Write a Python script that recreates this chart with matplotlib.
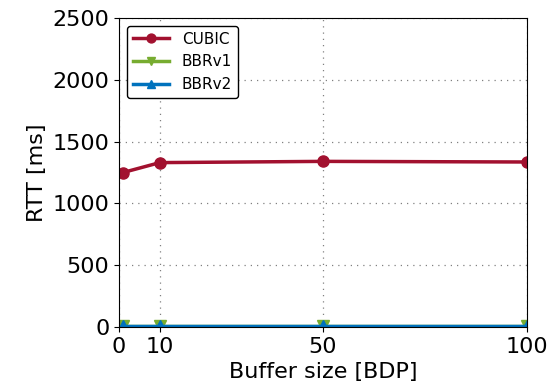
import numpy as np
import matplotlib
matplotlib.use('Agg')
import matplotlib.pyplot as plt

buffers = [1, 10, 50, 100]
rtt_cubic = [1250, 1330, 1340, 1335]
rtt_bbr1 = [12, 12, 12, 12]
rtt_bbr2 = [5, 5, 5, 5]
xticks = [0, 10, 50, 100]

plt.rcParams['font.size'] = 16

fig = plt.figure(figsize=(5.51, 3.89), dpi=100)
ax = fig.add_axes([119/551, 1 - 327/389, (527-119)/551, (327-18)/389])

ax.plot(buffers, rtt_cubic, color='#a2112f', lw=2.5, marker='o', ms=8, label='CUBIC')
ax.plot(buffers, rtt_bbr1, color='#77ac30', lw=2.5, marker='v', ms=8, label='BBRv1')
ax.plot(buffers, rtt_bbr2, color='#0072bd', lw=2.5, marker='^', ms=8, label='BBRv2')

ax.set_xlim(0, 100)
ax.set_ylim(0, 2500)
ax.set_xticks(xticks)
ax.set_yticks(range(0, 2501, 500))
ax.grid(True, linestyle=(0, (1, 4)), color='gray', lw=0.9)
ax.set_xlabel('Buffer size [BDP]')
ax.set_ylabel('RTT [ms]')
for s in ax.spines.values():
    s.set_clip_on(False)
ax.legend(loc='upper left', fontsize=11, edgecolor='black', fancybox=True, framealpha=1,
          handlelength=2.4, markerscale=0.8)

fig.savefig('out.png', dpi=100)
